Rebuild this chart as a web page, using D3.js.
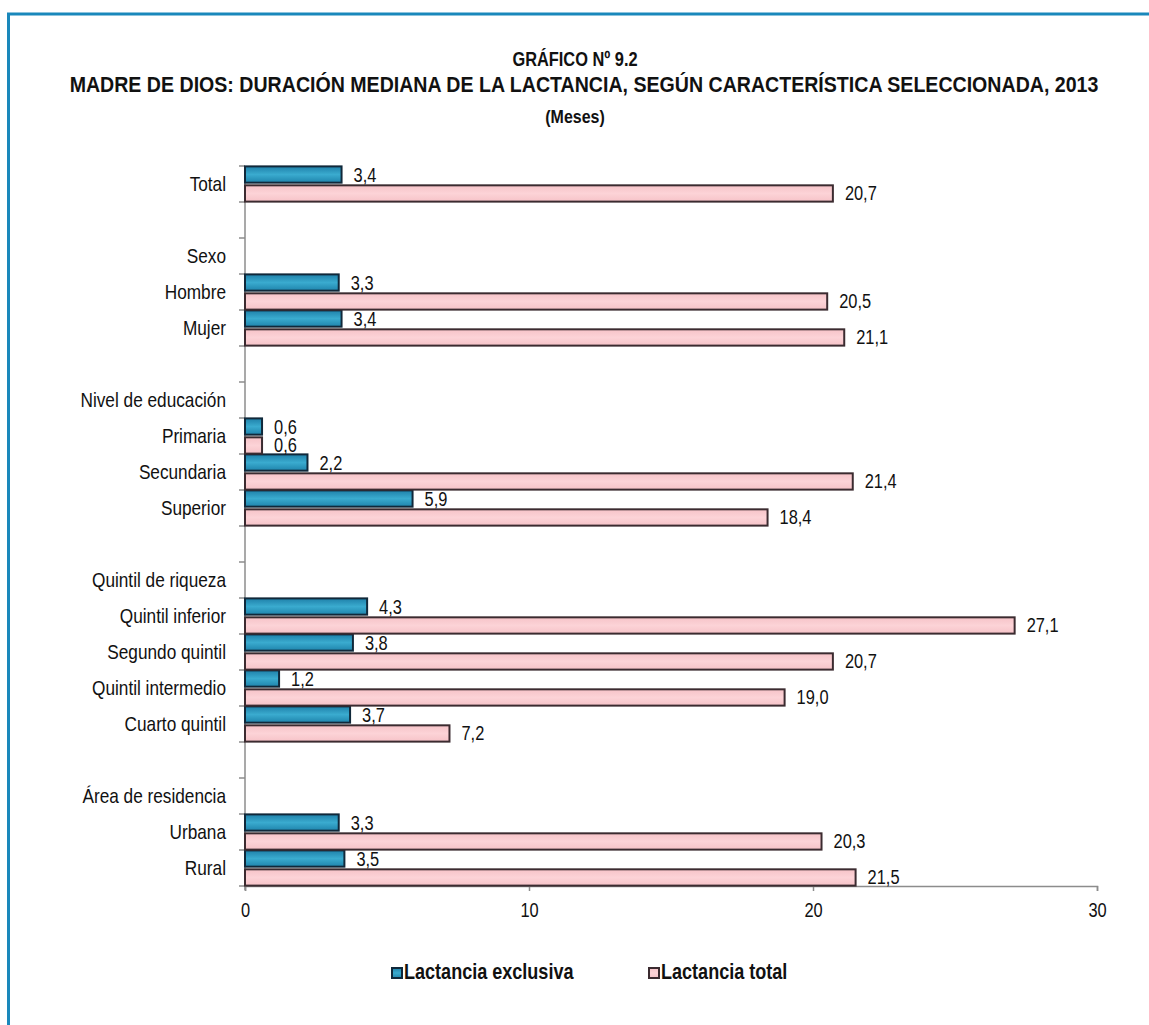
<!DOCTYPE html>
<html>
<head>
<meta charset="utf-8">
<script src="https://cdn.jsdelivr.net/npm/d3@7"></script>
<style>
  body { margin: 0; background: #fff; }
  svg { display: block; font-family: "Liberation Sans", Arial, sans-serif; }
</style>
</head>
<body>
<svg id="chart" width="1149" height="1025"></svg>
<script>
// categorias (las vacias son separadores de grupo)
var categorias = ["Total", "", "Sexo", "Hombre", "Mujer", "", "Nivel de educación", "Primaria", "Secundaria", "Superior", "",
    "Quintil de riqueza", "Quintil inferior", "Segundo quintil", "Quintil intermedio", "Cuarto quintil", "",
    "Área de residencia", "Urbana", "Rural"];
var lactanciaExclusiva = [3.4, null, null, 3.3, 3.4, null, null, 0.6, 2.2, 5.9, null, null, 4.3, 3.8, 1.2, 3.7, null, null, 3.3, 3.5];
var lactanciaTotal = [20.7, null, null, 20.5, 21.1, null, null, 0.6, 21.4, 18.4, null, null, 27.1, 20.7, 19.0, 7.2, null, null, 20.3, 21.5];
var series = ["Lactancia exclusiva", "Lactancia total"];
var ejeX = [0, 10, 20, 30];
var titulos = ["GRÁFICO Nº 9.2",
    "MADRE DE DIOS: DURACIÓN MEDIANA DE LA LACTANCIA, SEGÚN CARACTERÍSTICA SELECCIONADA, 2013",
    "(Meses)"];

var COLOR = {
    azul: "url(#gAzul)", azulBorde: "#10283a",
    rosa: "url(#gRosa)", rosaBorde: "#3b2b30",
    eje: "#8c8c8c", texto: "#111", marco: "#1a88bb"
};
var ANGOSTO = 0.82; // imita una fuente estrecha (tipo Arial Narrow)

var svg = d3.select("#chart");
var es = d3.formatLocale({ decimal: ",", thousands: ".", grouping: [3], currency: ["S/", ""] });
var fmt = es.format(".1f");

function angostar(sel, factor) {
    var f = factor || ANGOSTO;
    sel.each(function () {
        var w = this.getComputedTextLength();
        if (w > 0) {
            d3.select(this).attr("textLength", w * f).attr("lengthAdjust", "spacingAndGlyphs");
        }
    });
}

// degradados de las barras
var defs = svg.append("defs");
var gA = defs.append("linearGradient").attr("id", "gAzul").attr("x1", 0).attr("y1", 0).attr("x2", 0).attr("y2", 1);
gA.append("stop").attr("offset", "0%").attr("stop-color", "#1f80a9");
gA.append("stop").attr("offset", "50%").attr("stop-color", "#3aabcf");
gA.append("stop").attr("offset", "100%").attr("stop-color", "#1f84ac");
var gR = defs.append("linearGradient").attr("id", "gRosa").attr("x1", 0).attr("y1", 0).attr("x2", 0).attr("y2", 1);
gR.append("stop").attr("offset", "0%").attr("stop-color", "#f6c3c8");
gR.append("stop").attr("offset", "50%").attr("stop-color", "#fcd3d7");
gR.append("stop").attr("offset", "100%").attr("stop-color", "#f6c3c8");

// marco
svg.append("path")
    .attr("d", "M8.5,1025 L8.5,14 L1149,14")
    .attr("fill", "none")
    .attr("stroke", COLOR.marco)
    .attr("stroke-width", 3);

// titulo
var tx = [575, 584, 575], ty = [66, 92, 123], tf = [21, 22, 19], tk = [0.78, 0.89, 0.84];
svg.selectAll("text.titulo").data(titulos).enter().append("text")
    .attr("class", "titulo")
    .attr("x", function (d, i) { return tx[i]; })
    .attr("y", function (d, i) { return ty[i]; })
    .attr("text-anchor", "middle")
    .attr("font-size", function (d, i) { return tf[i]; })
    .attr("font-weight", "bold")
    .attr("fill", COLOR.texto)
    .text(function (d) { return d; })
    .each(function (d, i) { angostar(d3.select(this), tk[i]); });

var x = d3.scaleLinear().domain([0, 30]).range([245, 1097]);
var idx = d3.range(categorias.length);
var y = d3.scaleBand().domain(idx).range([166, 886]).padding(0);
var ySub = d3.scaleBand().domain([0, 1]).range([0, y.bandwidth()]).paddingInner(0.14).paddingOuter(0.02);

// eje vertical
var gY = svg.append("g").attr("transform", "translate(245,0)")
    .call(d3.axisLeft(y).tickSize(0).tickPadding(19).tickFormat(function (i) { return categorias[i]; }));
gY.select(".domain").remove();
gY.selectAll("text").attr("font-size", 21).attr("fill", COLOR.texto).attr("font-family", null).call(angostar);

// marcas en los limites de cada categoria
var limites = idx.map(function (i) { return y(i); }).concat([y.range()[1]]);
svg.append("g").selectAll("line").data(limites).enter().append("line")
    .attr("x1", 239).attr("x2", 245)
    .attr("y1", function (d) { return d; }).attr("y2", function (d) { return d; })
    .attr("stroke", COLOR.eje).attr("stroke-width", 1.5);
svg.append("line")
    .attr("x1", 245).attr("x2", 245).attr("y1", 166).attr("y2", 890)
    .attr("stroke", COLOR.eje).attr("stroke-width", 1.5);

// eje horizontal
var gX = svg.append("g").attr("transform", "translate(0,886)")
    .call(d3.axisBottom(x).tickValues(ejeX).tickSize(5).tickPadding(12).tickFormat(d3.format("d")));
gX.select(".domain").attr("stroke", COLOR.eje).attr("stroke-width", 1.5);
gX.selectAll(".tick line").attr("stroke", COLOR.eje).attr("stroke-width", 1.5);
gX.selectAll("text").attr("font-size", 20).attr("fill", COLOR.texto).attr("font-family", null).call(angostar);

// barras
var datos = [lactanciaExclusiva, lactanciaTotal];
var relleno = [COLOR.azul, COLOR.rosa], borde = [COLOR.azulBorde, COLOR.rosaBorde];
datos.forEach(function (serie, s) {
    var filas = idx.filter(function (i) { return serie[i] != null; });
    var g = svg.append("g");
    g.selectAll("rect").data(filas).enter().append("rect")
        .attr("x", x(0))
        .attr("y", function (i) { return y(i) + ySub(s); })
        .attr("width", function (i) { return x(serie[i]) - x(0); })
        .attr("height", ySub.bandwidth())
        .attr("fill", relleno[s])
        .attr("stroke", borde[s])
        .attr("stroke-width", 2);
    g.selectAll("text").data(filas).enter().append("text")
        .attr("x", function (i) { return x(serie[i]) + 12; })
        .attr("y", function (i) { return y(i) + ySub(s) + ySub.bandwidth() / 2; })
        .attr("dy", "0.35em")
        .attr("font-size", 20)
        .attr("fill", COLOR.texto)
        .text(function (i) { return fmt(serie[i]); })
        .call(angostar);
});

// leyenda
var leyX = [392, 649];
var ley = svg.append("g").selectAll("g").data(series).enter().append("g")
    .attr("transform", function (d, i) { return "translate(" + leyX[i] + ",967)"; });
ley.append("rect")
    .attr("y", 1)
    .attr("width", 10).attr("height", 10)
    .attr("fill", function (d, i) { return relleno[i]; })
    .attr("stroke", function (d, i) { return borde[i]; })
    .attr("stroke-width", 2);
ley.append("text")
    .attr("x", 12).attr("y", 12)
    .attr("font-size", 22).attr("font-weight", "bold")
    .attr("fill", COLOR.texto)
    .text(function (d) { return d; })
    .call(angostar);
</script>
</body>
</html>
